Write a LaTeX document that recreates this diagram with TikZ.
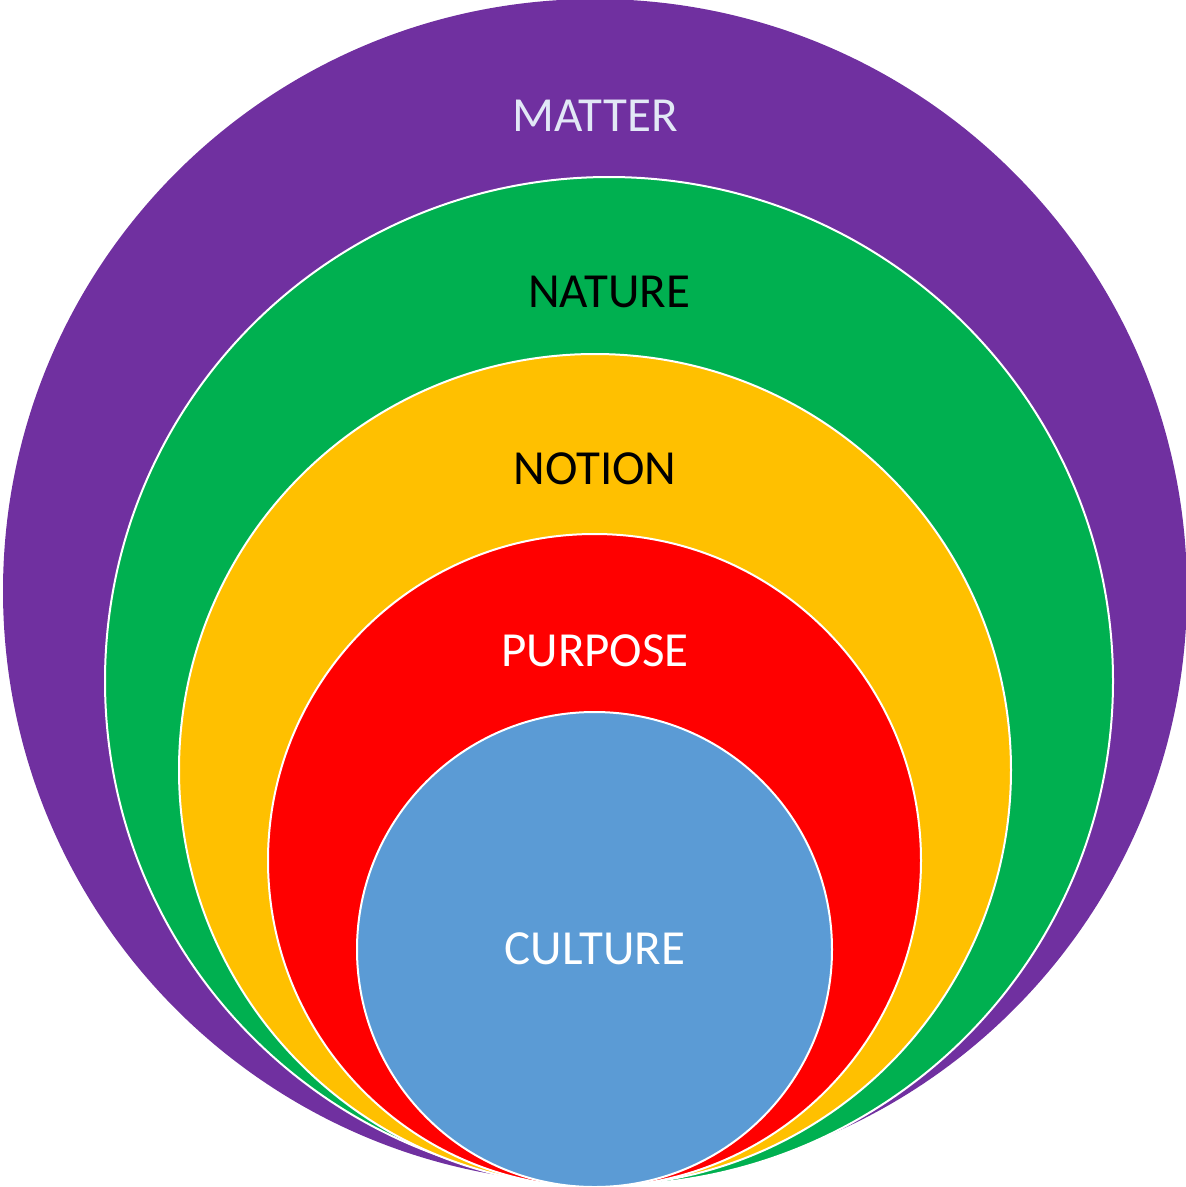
\documentclass[tikz,border=0pt]{standalone}
\usepackage{fontspec}
\setmainfont{Carlito}
\definecolor{cpurple}{HTML}{7030A0}
\definecolor{cgreen}{HTML}{00B050}
\definecolor{cyellow}{HTML}{FFC000}
\definecolor{cred}{HTML}{FF0000}
\definecolor{cblue}{HTML}{5B9BD5}
\definecolor{clight}{HTML}{E2E8F6}
\begin{document}
\begin{tikzpicture}[x=1pt,y=-1pt,
  ring/.style={draw=white,line width=2pt},
  lbl/.style={font=\fontsize{49}{56}\selectfont,inner sep=0pt,anchor=base}]
\useasboundingbox (0,0) rectangle (1186,1187);
\fill[cpurple] (595,591) circle[radius=592];
\draw[ring,fill=cgreen] (609,681) circle[radius=504];
\draw[ring,fill=cyellow] (595,770) circle[radius=416];
\draw[ring,fill=cred] (594.5,860.5) circle[radius=326.5];
\draw[ring,fill=cblue] (594.5,949.5) circle[radius=237.5];
\node[lbl,text=clight] (matter) at (595,131) {MATTER};
\node[lbl,text=black] (nature) at (609,307) {NATURE};
\node[lbl,text=black] (notion) at (595,484) {NOTION};
\node[lbl,text=white] (purpose) at (595,666) {PURPOSE};
\node[lbl,text=white] (culture) at (595,964) {CULTURE};
\end{tikzpicture}
\end{document}
